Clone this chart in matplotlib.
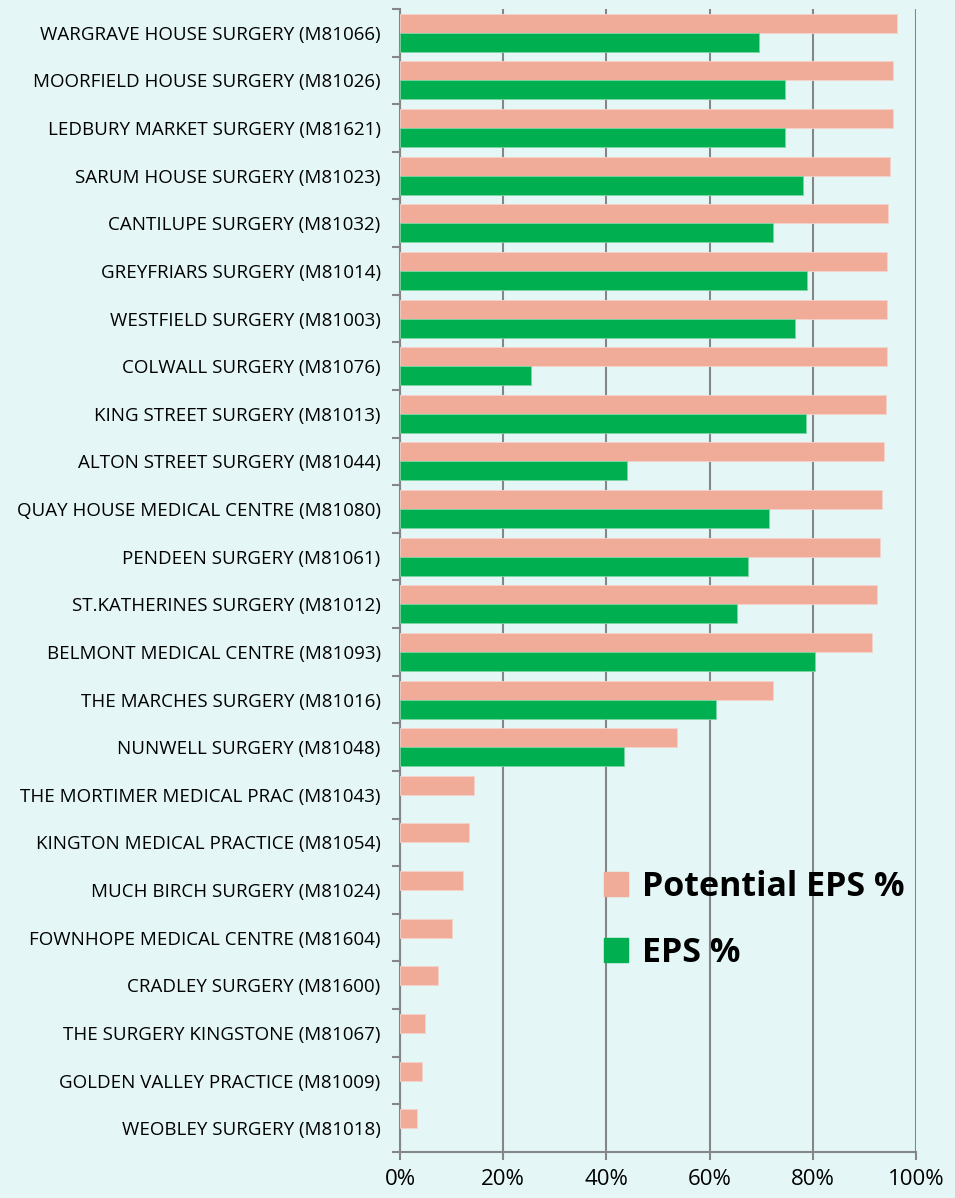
import matplotlib
matplotlib.use("Agg")
from matplotlib import pyplot as plt
from matplotlib.patches import Patch
import numpy as np

practices = [
    "WARGRAVE HOUSE SURGERY (M81066)",
    "MOORFIELD HOUSE SURGERY (M81026)",
    "LEDBURY MARKET SURGERY (M81621)",
    "SARUM HOUSE SURGERY (M81023)",
    "CANTILUPE SURGERY (M81032)",
    "GREYFRIARS SURGERY (M81014)",
    "WESTFIELD SURGERY (M81003)",
    "COLWALL SURGERY (M81076)",
    "KING STREET SURGERY (M81013)",
    "ALTON STREET SURGERY (M81044)",
    "QUAY HOUSE MEDICAL CENTRE (M81080)",
    "PENDEEN SURGERY (M81061)",
    "ST.KATHERINES SURGERY (M81012)",
    "BELMONT MEDICAL CENTRE (M81093)",
    "THE MARCHES SURGERY (M81016)",
    "NUNWELL SURGERY (M81048)",
    "THE MORTIMER MEDICAL PRAC (M81043)",
    "KINGTON MEDICAL PRACTICE (M81054)",
    "MUCH BIRCH SURGERY (M81024)",
    "FOWNHOPE MEDICAL CENTRE (M81604)",
    "CRADLEY SURGERY (M81600)",
    "THE SURGERY KINGSTONE (M81067)",
    "GOLDEN VALLEY PRACTICE (M81009)",
    "WEOBLEY SURGERY (M81018)",
]
potential_eps = [96.4, 95.6, 95.5, 95.0, 94.6, 94.5, 94.5, 94.4, 94.2, 93.9,
                 93.4, 93.1, 92.5, 91.5, 72.3, 53.6, 14.4, 13.4, 12.1, 10.0,
                 7.3, 4.8, 4.3, 3.2]
eps = [69.6, 74.6, 74.7, 78.2, 72.3, 78.9, 76.5, 25.4, 78.7, 44.0,
       71.6, 67.4, 65.4, 80.4, 61.2, 43.4, 0, 0, 0, 0,
       0, 0, 0, 0]
x_ticks = [0, 20, 40, 60, 80, 100]

bg = "#E4F6F6"
salmon = "#F0AC99"
green = "#00B050"
grey = "#868686"

fig = plt.figure(figsize=(9.55, 11.98), dpi=100, facecolor=bg)
ax = fig.add_axes([0.419, 0.0384, 0.540, 0.9541], facecolor=bg)

n = len(practices)
y = np.arange(n)
h = 0.4
ax.barh(y - h / 2, potential_eps, height=h, color=salmon, edgecolor="#F4D3CA",
        linewidth=0.6, label="Potential EPS %", zorder=3)
# skip the edge on empty bars so nothing shows at 0
ax.barh(y + h / 2, eps, height=h, color=green, edgecolor="#7FD4A4",
        linewidth=[0.6 if v > 0 else 0 for v in eps], label="EPS %", zorder=3)

ax.set_xlim(0, 100)
ax.set_ylim(n - 0.5, -0.5)
ax.set_xticks(x_ticks)
ax.set_xticklabels([f"{v}%" for v in x_ticks], fontsize=16, family="Open Sans")
ax.set_yticks(y)
ax.set_yticklabels(practices, fontsize=13.5, family="Open Sans")
ax.set_yticks(np.arange(n + 1) - 0.5, minor=True)
ax.tick_params(axis="y", which="major", length=0, pad=14)
ax.tick_params(axis="y", which="minor", length=6, width=1.5, color=grey, direction="out")
ax.tick_params(axis="x", length=6, width=1.5, color=grey, pad=6)

ax.grid(axis="x", color=grey, linewidth=1.5, zorder=0)
for s in ["top", "right"]:
    ax.spines[s].set_visible(False)
for s in ["left", "bottom"]:
    ax.spines[s].set_color(grey)
    ax.spines[s].set_linewidth(1.5)

handles = [Patch(facecolor=salmon, edgecolor=salmon), Patch(facecolor=green, edgecolor=green)]
leg = ax.legend(handles, ["Potential EPS %", "EPS %"], loc="upper left",
                bbox_to_anchor=(0.615, 0.288), bbox_transform=fig.transFigure,
                frameon=False, handlelength=0.7, handleheight=0.7,
                handletextpad=0.4, labelspacing=0.95, borderpad=0,
                prop={"size": 24.5, "weight": "bold", "family": "Open Sans"})

fig.savefig("out.png", dpi=100, facecolor=bg)
